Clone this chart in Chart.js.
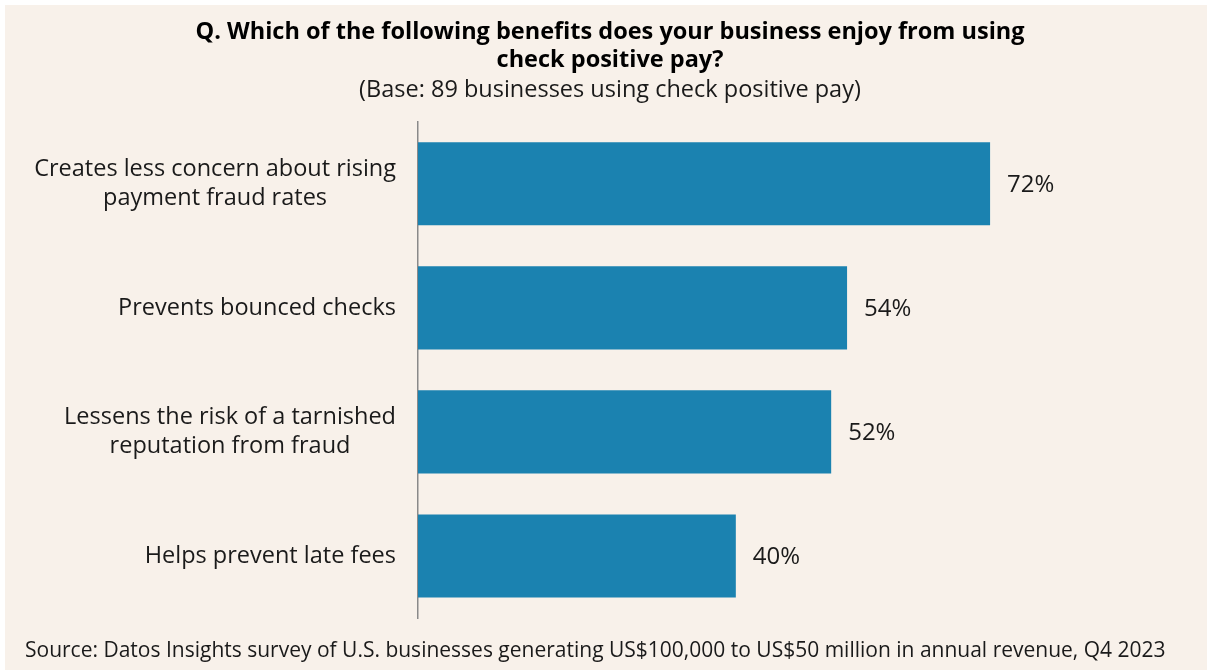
<!DOCTYPE html>
<html>
<head>
<meta charset="utf-8">
<script src="https://cdn.jsdelivr.net/npm/chart.js@4.4.1/dist/chart.umd.min.js"></script>
<style>
  html, body { margin: 0; padding: 0; background: #fff; }
</style>
</head>
<body>
<canvas id="graficoBeneficios" width="1207" height="670"></canvas>
<script>
// Benefits of check positive pay
const categories = [
    ['Creates less concern about rising', 'payment fraud rates'],
    ['Prevents bounced checks'],
    ['Lessens the risk of a tarnished', 'reputation from fraud'],
    ['Helps prevent late fees']
];
const percentages = [72, 54, 52, 40];
const titleLines = [
    'Q. Which of the following benefits does your business enjoy from using',
    'check positive pay?'
];
const subtitleText = '(Base: 89 businesses using check positive pay)';
const sourceText = 'Source: Datos Insights survey of U.S. businesses generating US$100,000 to US$50 million in annual revenue, Q4 2023';

const FONT = '"Open Sans", "Noto Sans", sans-serif';
const TEXT_COLOR = '#1a1a1a';

// beige panel behind everything
const panelBackground = {
    id: 'panelBackground',
    beforeDraw(chart) {
        const ctx = chart.ctx;
        ctx.save();
        ctx.fillStyle = '#ffffff';
        ctx.fillRect(0, 0, chart.width, chart.height);
        ctx.fillStyle = '#f8f1ea';
        ctx.fillRect(5, 5, chart.width - 5, chart.height - 5);
        ctx.restore();
    }
};

// category names, right-aligned block with centred lines
const categoryLabels = {
    id: 'categoryLabels',
    afterDraw(chart) {
        const ctx = chart.ctx;
        const yScale = chart.scales.y;
        const right = chart.chartArea.left - 22;
        const lineH = 29;
        ctx.save();
        ctx.font = '23.5px ' + FONT;
        ctx.fillStyle = TEXT_COLOR;
        ctx.textAlign = 'center';
        ctx.textBaseline = 'middle';
        categories.forEach((lines, i) => {
            const y = yScale.getPixelForValue(i);
            const w = Math.max(...lines.map(l => ctx.measureText(l).width));
            const cx = right - w / 2;
            const y0 = y - (lines.length - 1) * lineH / 2;
            lines.forEach((l, j) => ctx.fillText(l, cx, y0 + j * lineH));
        });
        ctx.restore();
    }
};

// percentage at the end of each bar
const valueLabels = {
    id: 'valueLabels',
    afterDatasetsDraw(chart) {
        const ctx = chart.ctx;
        const meta = chart.getDatasetMeta(0);
        ctx.save();
        ctx.font = '24px ' + FONT;
        ctx.fillStyle = TEXT_COLOR;
        ctx.textAlign = 'left';
        ctx.textBaseline = 'middle';
        meta.data.forEach((bar, i) => {
            ctx.fillText(percentages[i] + '%', bar.x + 17, bar.y + 1);
        });
        ctx.restore();
    }
};

// source line at the bottom
const sourceNote = {
    id: 'sourceNote',
    afterDraw(chart) {
        const ctx = chart.ctx;
        ctx.save();
        ctx.font = '21px ' + FONT;
        ctx.fillStyle = TEXT_COLOR;
        ctx.textAlign = 'left';
        ctx.textBaseline = 'middle';
        ctx.fillText(sourceText, 25, 651);
        ctx.restore();
    }
};

const ctx = document.getElementById('graficoBeneficios').getContext('2d');

new Chart(ctx, {
    type: 'bar',
    data: {
        labels: categories,
        datasets: [{
            data: percentages,
            backgroundColor: '#1b82b0',
            borderWidth: 0,
            categoryPercentage: 1,
            barPercentage: 0.67
        }]
    },
    options: {
        indexAxis: 'y',
        responsive: false,
        devicePixelRatio: 1,
        animation: false,
        layout: { padding: { left: 13, right: 0, top: 0, bottom: 52 } },
        plugins: {
            legend: { display: false },
            tooltip: { enabled: false },
            title: {
                display: true,
                text: titleLines,
                color: '#000',
                font: { family: FONT, size: 23.5, weight: 'bold', lineHeight: 1.19 },
                padding: { top: 18, bottom: 3 }
            },
            subtitle: {
                display: true,
                text: subtitleText,
                color: TEXT_COLOR,
                font: { family: FONT, size: 23.5, lineHeight: 1.1 },
                padding: { top: 0, bottom: 19 }
            }
        },
        scales: {
            x: { display: false, min: 0, max: 99.3 },
            y: {
                grid: { display: false },
                border: { display: true, color: '#8a8a8a', width: 1.5 },
                ticks: { display: false },
                afterFit(scale) { scale.width = 405; }
            }
        }
    },
    plugins: [panelBackground, categoryLabels, valueLabels, sourceNote]
});
</script>
</body>
</html>
